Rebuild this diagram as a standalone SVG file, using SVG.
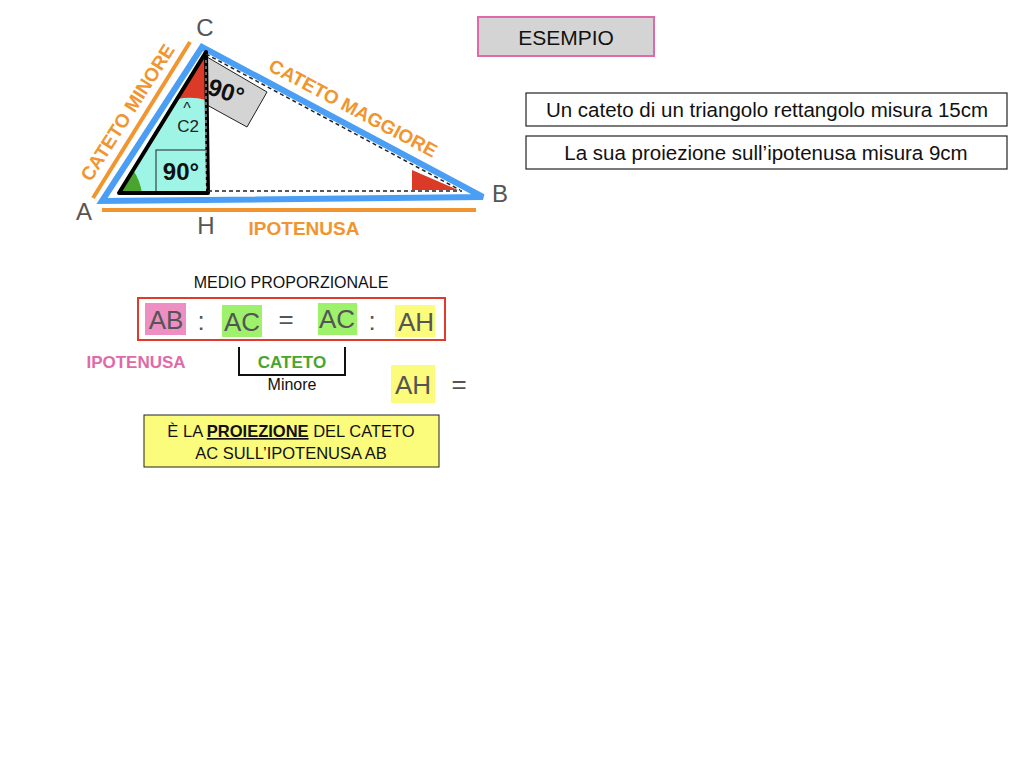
<svg xmlns="http://www.w3.org/2000/svg" width="1024" height="768" viewBox="0 0 1024 768">
<style>
text{font-family:"Liberation Sans",Arial,sans-serif}
.or{fill:#f0952f;font-weight:bold;font-size:19px}
.gl{fill:#555;font-size:24px}
.big{fill:#555;font-size:26px}
.box{fill:#fff;stroke:#222;stroke-width:1.2}
</style>
<rect width="1024" height="768" fill="#fff"/>
<g id="triangle">
<polygon points="119,193 206,52 208,193" fill="#9ef5e6"/>
<path d="M206,52 L177,99 Q192,96 206,100 Z" fill="#db3b26"/>
<path d="M119,193 L133,170 Q140,180 142,193 Z" fill="#4aa52e"/>
<polygon points="412,170 412,190 458,190" fill="#db3b26"/>
<polygon points="207,57 267,92 247,127 207,105" fill="#d5d4d4" stroke="#222" stroke-width="1"/>
<text x="208" y="101" font-size="24" font-weight="bold" fill="#111" transform="rotate(18 230 92)">90°</text>
<rect x="156" y="150" width="51" height="42" fill="none" stroke="#222" stroke-width="1"/>
<text x="181" y="180" font-size="24" font-weight="bold" fill="#111" text-anchor="middle">90°</text>
<text x="187" y="114" font-size="16" fill="#222" text-anchor="middle">^</text>
<text x="188" y="132" font-size="17" fill="#222" text-anchor="middle">C2</text>
<polygon points="102,201 202,47 483,197" fill="none" stroke="#4a9ff5" stroke-width="6" stroke-linejoin="miter"/>
<polygon points="119,193 206,52 208,193" fill="none" stroke="#000" stroke-width="4" stroke-linejoin="round"/>
<line x1="206" y1="54" x2="460" y2="190" stroke="#222" stroke-width="1.5" stroke-dasharray="4,3"/>
<line x1="208" y1="191" x2="462" y2="191" stroke="#222" stroke-width="1.5" stroke-dasharray="4,3"/>
<line x1="206" y1="60" x2="206" y2="190" stroke="#fff" stroke-width="0.8" stroke-dasharray="3,3"/>
<line x1="93" y1="198" x2="190" y2="42" stroke="#f0952f" stroke-width="4"/>
<line x1="102" y1="210" x2="476" y2="210" stroke="#f0952f" stroke-width="4"/>
<text class="or" transform="translate(133,116) rotate(-57.5)" text-anchor="middle">CATETO MINORE</text>
<text class="or" transform="translate(350,114) rotate(28)" text-anchor="middle">CATETO MAGGIORE</text>
<text class="or" x="304" y="235" text-anchor="middle">IPOTENUSA</text>
<text class="gl" x="205" y="36" text-anchor="middle">C</text>
<text class="gl" x="84" y="220" text-anchor="middle">A</text>
<text class="gl" x="500" y="202" text-anchor="middle">B</text>
<text class="gl" x="206" y="234" text-anchor="middle">H</text>
</g>
<g id="esempio">
<rect x="478" y="17" width="176" height="39" fill="#d5d4d4" stroke="#e06aa8" stroke-width="2"/>
<text x="566" y="45" font-size="21" text-anchor="middle" fill="#111">ESEMPIO</text>
</g>
<g id="data1"><rect class="box" x="526" y="93" width="481" height="33"/>
<text x="767" y="117" font-size="20.5" text-anchor="middle" fill="#111">Un cateto di un triangolo rettangolo misura 15cm</text></g>
<g id="data2"><rect class="box" x="526" y="136" width="481" height="33"/>
<text x="766" y="160" font-size="20.5" text-anchor="middle" fill="#111">La sua proiezione sull’ipotenusa misura 9cm</text></g>
<g id="proportion">
<text x="291" y="288" font-size="16" text-anchor="middle" fill="#111">MEDIO PROPORZIONALE</text>
<rect x="138" y="298" width="307" height="42" fill="none" stroke="#e03a2a" stroke-width="2"/>
<rect x="145" y="303" width="41" height="32" fill="#ee8fc3"/>
<rect x="222" y="305" width="40" height="32" fill="#9ef16a"/>
<rect x="318" y="303" width="39" height="32" fill="#9ef16a"/>
<rect x="395" y="305" width="40" height="32" fill="#fbfb7c"/>
<text class="big" x="166" y="329" text-anchor="middle">AB</text>
<text class="big" x="201" y="330" text-anchor="middle">:</text>
<text class="big" x="242" y="331" text-anchor="middle">AC</text>
<text class="big" x="286" y="328" text-anchor="middle">=</text>
<text class="big" x="337" y="328" text-anchor="middle">AC</text>
<text class="big" x="372" y="330" text-anchor="middle">:</text>
<text class="big" x="416" y="331" text-anchor="middle">AH</text>
<text x="136" y="368" font-size="17" font-weight="bold" fill="#e06aa8" text-anchor="middle">IPOTENUSA</text>
<path d="M239,347 V375 H345 V347" fill="none" stroke="#111" stroke-width="2"/>
<text x="292" y="368" font-size="17" font-weight="bold" fill="#4aa52e" text-anchor="middle">CATETO</text>
<text x="292" y="390" font-size="16" fill="#111" text-anchor="middle">Minore</text>
<rect x="391" y="365" width="44" height="38" fill="#fbfb7c"/>
<text class="big" x="413" y="394" text-anchor="middle">AH</text>
<text class="big" x="459" y="393" text-anchor="middle">=</text>
</g>
<g id="note">
<rect x="144" y="415" width="295" height="52" fill="#fbfb7c" stroke="#222" stroke-width="1"/>
<text x="291" y="437" font-size="16.5" text-anchor="middle" fill="#111">È LA <tspan font-weight="bold" text-decoration="underline">PROIEZIONE</tspan> DEL CATETO</text>
<text x="291" y="459" font-size="16.5" text-anchor="middle" fill="#111">AC SULL’IPOTENUSA AB</text>
</g>
</svg>
